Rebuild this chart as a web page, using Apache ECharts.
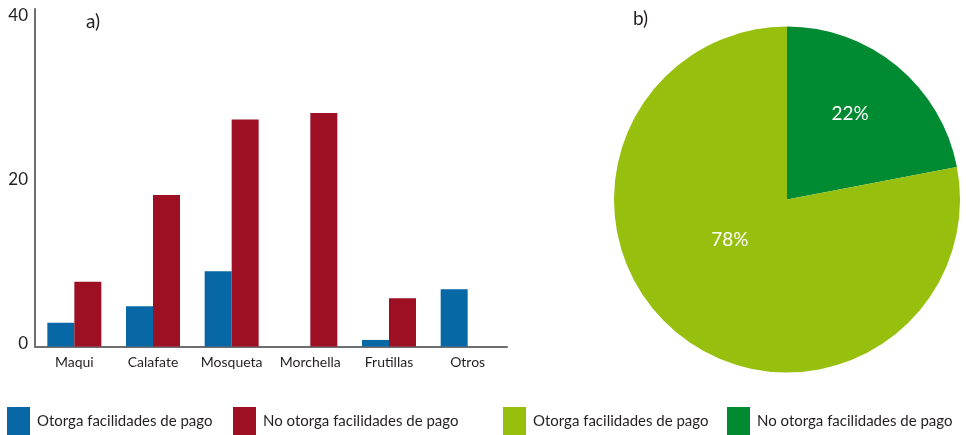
<!DOCTYPE html>
<html>
<head>
<meta charset="utf-8">
<script src="https://cdn.jsdelivr.net/npm/echarts@6/dist/echarts.min.js"></script>
<style>
  html, body { margin: 0; padding: 0; background: #fff; }
  #box { width: 966px; height: 435px; }
</style>
</head>
<body>
<div id="box"></div>
<script>
// a) productos
var categories = ['Maqui', 'Calafate', 'Mosqueta', 'Morchella', 'Frutillas', 'Otros'];
var otorga = [2.9, 4.9, 9.2, 0, 0.8, 7.0];
var noOtorga = [7.9, 18.5, 27.7, 28.5, 5.9, 0];
var yTicks = [0, 20, 40];

// b) porcentaje
var pieNames = ['No otorga facilidades de pago', 'Otorga facilidades de pago'];
var pieValues = [22, 78];

var txt = '#231f20';
var axisGray = '#6d6e70';
var font = 'Lato';

var chart = echarts.init(document.getElementById('box'));

// nombres unicos para la leyenda, se quita el prefijo al mostrar
function strip(name) {
    return name.replace(/^[ab]\) /, '');
}

var legendBase = {
    top: 407,
    padding: 0,
    itemWidth: 23,
    itemHeight: 28,
    selectedMode: false,
    icon: 'rect',
    formatter: strip,
    textStyle: { color: txt, fontSize: 15, fontFamily: font, padding: [0, 0, 0, 2] }
};

var option = {
    animation: false,
    textStyle: { fontFamily: font },
    title: [
        { text: 'a)', left: 81, top: 7, textStyle: { fontSize: 19, fontWeight: 'normal', color: txt, fontFamily: font } },
        { text: 'b)', left: 628, top: 4, textStyle: { fontSize: 19, fontWeight: 'normal', color: txt, fontFamily: font } }
    ],
    legend: [
        Object.assign({}, legendBase, { left: 7, data: ['a) ' + 'Otorga facilidades de pago'] }),
        Object.assign({}, legendBase, { left: 233, data: ['a) ' + 'No otorga facilidades de pago'] }),
        Object.assign({}, legendBase, { left: 503, data: ['b) ' + pieNames[1]] }),
        Object.assign({}, legendBase, { left: 727, data: ['b) ' + pieNames[0]] })
    ],
    grid: { left: 35, top: 9, width: 472, height: 337.5 },
    xAxis: {
        type: 'category',
        data: categories,
        axisTick: { show: false },
        axisLine: { lineStyle: { color: axisGray, width: 2 } },
        axisLabel: { color: txt, fontSize: 14, margin: 9, fontFamily: font, interval: 0 }
    },
    yAxis: {
        type: 'value',
        min: 0,
        max: 41.2,
        interval: 20,
        splitLine: { show: false },
        axisTick: { show: false },
        axisLine: { show: true, lineStyle: { color: axisGray, width: 2 } },
        axisLabel: {
            color: txt,
            fontSize: 17,
            margin: 7,
            fontFamily: font,
            verticalAlign: 'bottom',
            lineHeight: 6,
            formatter: function (v) {
                return yTicks.indexOf(v) >= 0 ? String(v) : '';
            }
        }
    },
    series: [
        {
            name: 'a) Otorga facilidades de pago',
            type: 'bar',
            data: otorga,
            barWidth: 27,
            barGap: '0%',
            itemStyle: { color: '#0868a6' }
        },
        {
            name: 'a) No otorga facilidades de pago',
            type: 'bar',
            data: noOtorga,
            barWidth: 27,
            itemStyle: { color: '#9d1023' }
        },
        {
            type: 'pie',
            center: [787, 199.5],
            radius: 173,
            startAngle: 90,
            clockwise: true,
            data: [
                { name: 'b) ' + pieNames[0], value: pieValues[0], itemStyle: { color: '#008a31' } },
                { name: 'b) ' + pieNames[1], value: pieValues[1], itemStyle: { color: '#97bf0d' } }
            ],
            itemStyle: { borderWidth: 0 },
            label: {
                position: 'inside',
                formatter: '{c}%',
                color: '#fff',
                fontSize: 19,
                fontFamily: font
            },
            labelLine: { show: false },
            labelLayout: function (p) {
                return p.dataIndex === 0 ? { dx: 6, dy: -17 } : { dx: 0, dy: -29 };
            },
            emphasis: { disabled: true }
        }
    ]
};

chart.setOption(option);
</script>
</body>
</html>
